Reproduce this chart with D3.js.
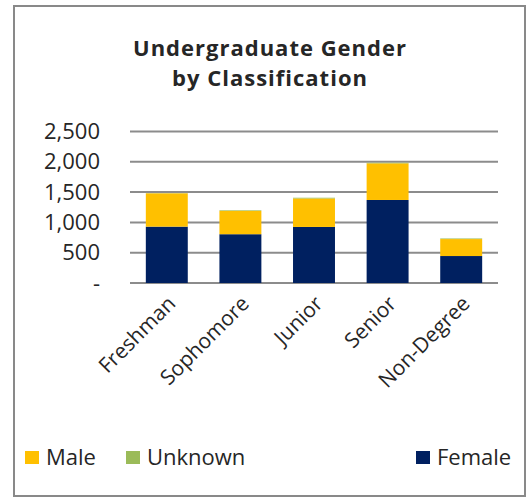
<!DOCTYPE html>
<html>
<head>
<meta charset="utf-8">
<script src="https://cdn.jsdelivr.net/npm/d3@7"></script>
<style>
  body { margin: 0; background: #fff; }
  text { font-family: "Open Sans", "Liberation Sans", sans-serif; fill: #262626; }
</style>
</head>
<body>
<svg id="svg"></svg>
<script>
// data
const classes = ["Freshman", "Sophomore", "Junior", "Senior", "Non-Degree"];
const female = [930, 805, 925, 1370, 445];
const male = [550, 385, 470, 605, 280];
const unknown = [3, 10, 12, 10, 10];
const yTicks = [0, 500, 1000, 1500, 2000, 2500];
const seriesNames = ["Female", "Male", "Unknown"];

const colors = {
    Female: "#002060",
    Male: "#FFC000",
    Unknown: "#9BBB59",
};

const size = { width: 530, height: 498 };
const svg = d3.select("#svg").attr("width", size.width).attr("height", size.height);

// chart frame
svg.append("rect")
    .attr("x", 14).attr("y", 6)
    .attr("width", 511).attr("height", 490)
    .attr("fill", "none")
    .attr("stroke", "#898989")
    .attr("stroke-width", 2);

// title, two lines
const titleLines = ["Undergraduate Gender", "by Classification"];
svg.append("g")
    .selectAll("text")
    .data(titleLines)
    .join("text")
    .attr("x", 270)
    .attr("y", (d, i) => 56 + i * 30)
    .attr("text-anchor", "middle")
    .attr("font-weight", "bold")
    .attr("font-size", 22)
    .attr("letter-spacing", 1)
    .text(d => d);

const plot = { left: 130, right: 498, top: 131.5, bottom: 283 };

const x = d3.scaleBand()
    .domain(classes)
    .range([plot.left, plot.right])
    .paddingInner(0.43)
    .paddingOuter(0.215);

const y = d3.scaleLinear()
    .domain([0, 2500])
    .range([plot.bottom, plot.top]);

// gridlines
svg.append("g")
    .selectAll("line")
    .data(yTicks)
    .join("line")
    .attr("x1", plot.left).attr("x2", plot.right)
    .attr("y1", d => y(d)).attr("y2", d => y(d))
    .attr("stroke", "#8c8c8c")
    .attr("stroke-width", 2);

// y axis labels ("-" for zero, accounting style)
const yAxis = d3.axisLeft(y)
    .tickValues(yTicks)
    .tickSize(0)
    .tickPadding(0)
    .tickFormat(d => d === 0 ? "-" : d3.format(",")(d));

svg.append("g")
    .attr("transform", "translate(100,0)")
    .call(yAxis)
    .call(g => g.select(".domain").remove())
    .call(g => g.selectAll("text")
        .attr("font-size", 22)
        .attr("font-family", "\"Open Sans\", sans-serif")
        .attr("fill", "#262626"));

// stacked bars
const rows = classes.map((c, i) => ({
    name: c,
    Female: female[i],
    Male: male[i],
    Unknown: unknown[i],
}));
const stacked = d3.stack().keys(seriesNames)(rows);

svg.append("g")
    .selectAll("g")
    .data(stacked)
    .join("g")
    .attr("fill", s => colors[s.key])
    .selectAll("rect")
    .data(s => s)
    .join("rect")
    .attr("x", d => x(d.data.name))
    .attr("width", x.bandwidth())
    .attr("y", d => y(d[1]))
    .attr("height", d => y(d[0]) - y(d[1]));

// category labels, rotated
svg.append("g")
    .selectAll("text")
    .data(classes)
    .join("text")
    .attr("text-anchor", "end")
    .attr("font-size", 21)
    .attr("transform", d => {
        const cx = x(d) + x.bandwidth() / 2 + 10;
        return "translate(" + cx + ",305) rotate(-45)";
    })
    .text(d => d);

// legend
const legendItems = [
    { name: "Male", x: 25 },
    { name: "Unknown", x: 126 },
    { name: "Female", x: 416 },
];
const legend = svg.append("g")
    .selectAll("g")
    .data(legendItems)
    .join("g")
    .attr("transform", d => "translate(" + d.x + ",451)");
legend.append("rect")
    .attr("width", 14).attr("height", 13)
    .attr("fill", d => colors[d.name]);
legend.append("text")
    .attr("x", 21).attr("y", 14)
    .attr("font-size", 22)
    .text(d => d.name);
</script>
</body>
</html>
